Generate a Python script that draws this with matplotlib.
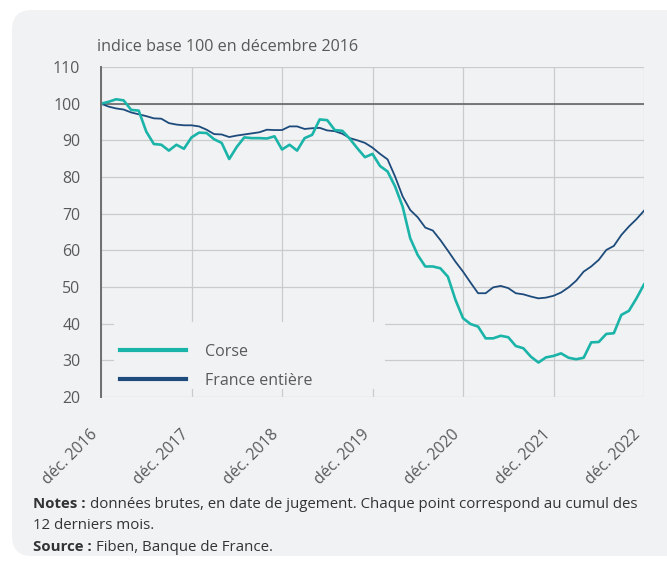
import matplotlib
matplotlib.use("Agg")
import matplotlib.pyplot as plt
import numpy as np
from matplotlib.lines import Line2D
from matplotlib.patches import FancyBboxPatch, Rectangle

# monthly index, base 100 in december 2016 (dec 2016 .. dec 2022)
corse = [100, 100.5, 101.2, 100.9, 98.3, 98.1, 92.4, 89, 88.8, 87.2, 88.8, 87.7,
         90.8, 92.1, 92, 90.3, 89.3, 84.9, 88.2, 90.8, 90.6, 90.6, 90.5, 91.1,
         87.5, 88.8, 87.2, 90.6, 91.5, 95.7, 95.5, 92.8, 92.6, 90.4, 87.8, 85.4,
         86.3, 83, 81.5, 77.4, 71.9, 63.3, 58.7, 55.6, 55.6, 55.1, 52.8, 46.5,
         41.5, 39.9, 39.2, 36, 36, 36.7, 36.3, 33.9, 33.3, 31, 29.4, 30.8,
         31.2, 31.9, 30.7, 30.3, 30.7, 34.9, 35, 37.2, 37.4, 42.4, 43.5, 46.9,
         50.7]
france = [100, 99.2, 98.7, 98.4, 97.6, 97.1, 96.6, 96, 95.9, 94.7, 94.3, 94.1,
          94.1, 93.8, 92.9, 91.7, 91.6, 90.9, 91.3, 91.6, 91.9, 92.2, 92.9, 92.8,
          92.8, 93.8, 93.8, 93.1, 93.3, 93.4, 92.7, 92.5, 91.8, 90.6, 90, 89.3,
          88, 86.3, 84.8, 80.1, 74.7, 71, 69, 66.2, 65.4, 62.8, 59.9, 56.9,
          54.2, 51.2, 48.3, 48.3, 49.9, 50.3, 49.7, 48.3, 48, 47.4, 46.9, 47.1,
          47.6, 48.5, 49.9, 51.7, 54.2, 55.6, 57.4, 60.1, 61.2, 64.2, 66.5, 68.5,
          70.8]
year_labels = ['déc. 2016', 'déc. 2017', 'déc. 2018', 'déc. 2019',
               'déc. 2020', 'déc. 2021', 'déc. 2022']
series_names = ['Corse', 'France entière']

bg = '#f1f2f4'
teal = '#1bb4a9'
navy = '#1d4b7b'
grey_txt = '#595959'

plt.rcParams['font.family'] = ['Open Sans', 'DejaVu Sans']

fig = plt.figure(figsize=(6.67, 5.64), dpi=100, facecolor='white')
panel = FancyBboxPatch((0.12, 0.08), 6.9, 5.46, boxstyle='round,pad=0,rounding_size=0.2',
                       transform=fig.dpi_scale_trans, facecolor=bg, edgecolor='none', zorder=-10)
fig.add_artist(panel)

ax = fig.add_axes([101 / 667, 1 - 397 / 564, 543 / 667, 330 / 564])
ax.set_facecolor('none')

months = np.arange(len(corse))
ax.plot(months, france, color=navy, lw=1.3, zorder=3, solid_joinstyle='round')
ax.plot(months, corse, color=teal, lw=1.9, zorder=4, solid_joinstyle='round')
ax.axhline(100, color='#6e6e6e', lw=1.3, zorder=2.5)

ax.set_xlim(0, 72)
ax.set_ylim(20, 110)
ax.set_yticks(np.arange(20, 111, 10))
ax.set_xticks(np.arange(0, 73, 12))
ax.set_xticklabels(year_labels, rotation=45, ha='right', va='top')
ax.set_axisbelow(True)
ax.grid(True, color='#cbcbcb', lw=0.9)
ax.tick_params(length=0, labelsize=11.4, labelcolor=grey_txt)
ax.tick_params(axis='y', pad=15)
ax.tick_params(axis='x', pad=21)
for s in ['top', 'right', 'bottom']:
    ax.spines[s].set_visible(False)
ax.spines['left'].set_color('#6e6e6e')
ax.spines['left'].set_linewidth(1.4)
ax.spines['left'].set_zorder(5)

# legend background hiding the grid
ax.add_patch(Rectangle((0.024, 0.024), 0.499, 0.203, transform=ax.transAxes,
                       facecolor=bg, edgecolor='none', zorder=1))
handles = [Line2D([], [], color=teal, lw=3), Line2D([], [], color=navy, lw=3)]
ax.legend(handles, series_names, loc='upper left', bbox_to_anchor=(0.035, 0.162),
          frameon=False, borderpad=0, borderaxespad=0, handlelength=4.15,
          handletextpad=1.2, labelspacing=0.82, fontsize=11.5, labelcolor=grey_txt)

fig.text(97 / 667, 1 - 51 / 564, 'indice base 100 en décembre 2016', fontsize=11.6,
         color=grey_txt, va='baseline', ha='left')

# notes under the chart
renderer = fig.canvas.get_renderer()
note_lines = [
    ('Notes :', 'données brutes, en date de jugement. Chaque point correspond au cumul des', 508),
    ('', '12 derniers mois.', 529),
    ('Source :', 'Fiben, Banque de France.', 551),
]
x0 = 33 / 667
for bold, rest, ybase in note_lines:
    y = 1 - ybase / 564
    x = x0
    if bold:
        t = fig.text(x, y, bold, fontsize=10.85, fontweight='bold', color='#333333', va='baseline')
        w = t.get_window_extent(renderer).width
        x = x0 + (w + 4) / 667
    fig.text(x, y, rest, fontsize=10.85, color='#333333', va='baseline')

fig.savefig('out.png', dpi=100, facecolor='white')
